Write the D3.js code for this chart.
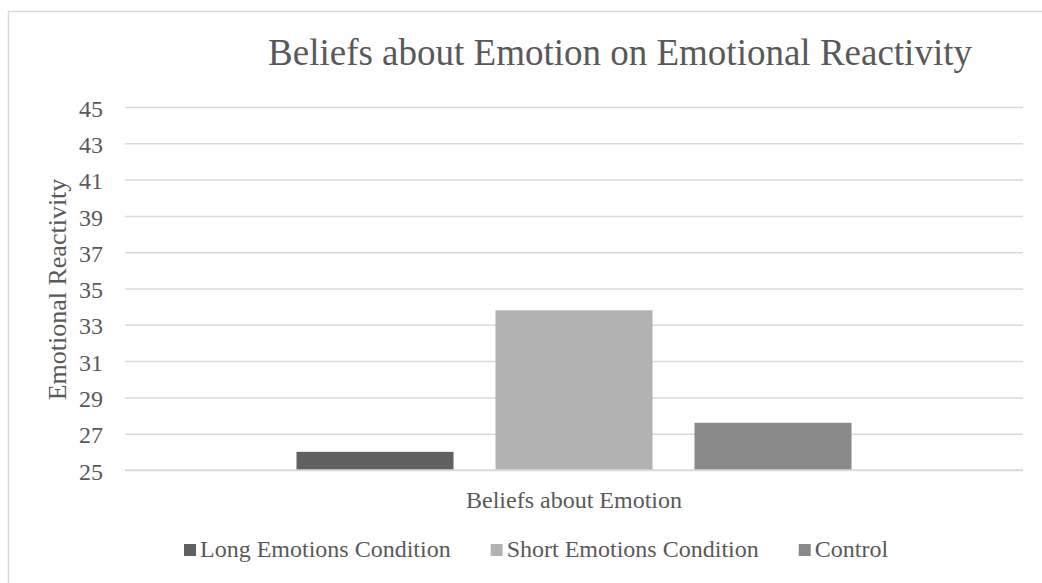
<!DOCTYPE html>
<html>
<head>
<meta charset="utf-8">
<script src="https://cdn.jsdelivr.net/npm/d3@7"></script>
<style>
  html, body { margin: 0; padding: 0; background: #fff; }
  svg { display: block; font-family: "Liberation Serif", "Times New Roman", serif; }
</style>
</head>
<body>
<div id="chart"></div>
<script>
// data
const category = ["Beliefs about Emotion"];
const seriesNames = ["Long Emotions Condition", "Short Emotions Condition", "Control"];
const seriesValues = [26.0, 33.8, 27.6];
const seriesColors = ["#616161", "#b2b2b2", "#898989"];
const yTicks = [25, 27, 29, 31, 33, 35, 37, 39, 41, 43, 45];

const width = 1042, height = 583;
const margin = { top: 107, right: 19, bottom: 113, left: 125 };
const textColor = "#595959";
const gridColor = "#d9d9d9";

const svg = d3.select("#chart").append("svg")
    .attr("width", width)
    .attr("height", height);

// chart area border (cropped at right and bottom)
svg.append("rect")
    .attr("x", 8.5).attr("y", 11.5)
    .attr("width", width + 20).attr("height", height + 20)
    .attr("fill", "none")
    .attr("stroke", gridColor)
    .attr("stroke-width", 1.5);

const x0 = d3.scaleBand()
    .domain(category)
    .range([margin.left, width - margin.right])
    .paddingInner(0)
    .paddingOuter(0.309);

const x1 = d3.scaleBand()
    .domain(seriesNames)
    .range([0, x0.bandwidth()])
    .paddingInner(0.211);

const y = d3.scaleLinear()
    .domain([25, 45])
    .range([height - margin.bottom, margin.top]);

// gridlines + y axis labels
const yAxis = svg.append("g")
    .attr("transform", `translate(${margin.left},0)`)
    .call(d3.axisLeft(y)
        .tickValues(yTicks)
        .tickSize(-(width - margin.left - margin.right))
        .tickPadding(22));
yAxis.select(".domain").remove();
yAxis.selectAll(".tick line")
    .attr("stroke", gridColor)
    .attr("stroke-width", 1.5);
yAxis.selectAll(".tick text")
    .attr("fill", textColor)
    .attr("font-size", 24)
    .attr("font-family", "Liberation Serif")
    .attr("dy", "0.38em");

// bars
const group = svg.append("g")
    .attr("transform", `translate(${x0(category[0])},0)`);

group.selectAll("rect")
    .data(seriesNames.map((name, i) => ({ name, value: seriesValues[i], color: seriesColors[i] })))
    .join("rect")
    .attr("x", d => x1(d.name))
    .attr("width", x1.bandwidth())
    .attr("y", d => y(d.value))
    .attr("height", d => y(25) - y(d.value))
    .attr("fill", d => d.color);

// category axis line
svg.append("line")
    .attr("x1", margin.left).attr("x2", width - margin.right)
    .attr("y1", y(25)).attr("y2", y(25))
    .attr("stroke", gridColor)
    .attr("stroke-width", 1.5);

// title
svg.append("text")
    .attr("x", 620)
    .attr("y", 65)
    .attr("text-anchor", "middle")
    .attr("fill", textColor)
    .attr("font-size", 37)
    .text("Beliefs about Emotion on Emotional Reactivity");

// y axis title
svg.append("text")
    .attr("transform", `translate(66, ${(y(25) + y(45)) / 2 + 1}) rotate(-90)`)
    .attr("text-anchor", "middle")
    .attr("fill", textColor)
    .attr("font-size", 26)
    .text("Emotional Reactivity");

// category label
svg.append("text")
    .attr("x", x0(category[0]) + x0.bandwidth() / 2)
    .attr("y", 508)
    .attr("text-anchor", "middle")
    .attr("fill", textColor)
    .attr("font-size", 24)
    .text(category[0]);

// legend
const legend = svg.append("g").attr("transform", "translate(184, 557)");
let lx = 0;
seriesNames.forEach((name, i) => {
    const item = legend.append("g").attr("transform", `translate(${lx},0)`);
    item.append("rect")
        .attr("x", 0).attr("y", -13)
        .attr("width", 12).attr("height", 12)
        .attr("fill", seriesColors[i]);
    const t = item.append("text")
        .attr("x", 16)
        .attr("fill", textColor)
        .attr("font-size", 24)
        .text(name);
    lx += 16 + t.node().getComputedTextLength() + 40;
});
</script>
</body>
</html>
